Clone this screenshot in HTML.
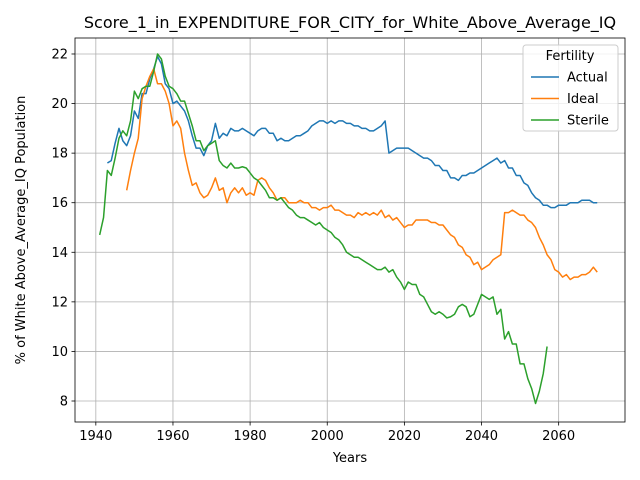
<!DOCTYPE html>
<html><head><meta charset="utf-8"><style>body{margin:0;background:#fff}svg{display:block;font-family:"DejaVu Sans","Liberation Sans",sans-serif}</style></head>
<body>
<svg id="chart" width="640" height="480"></svg>
<script>
const actualStart = 1943;
const actualValues = [17.6,17.7,18.4,19.0,18.5,18.3,18.7,19.7,19.4,20.4,20.4,21.0,21.4,21.9,21.6,20.8,20.6,20.0,20.1,19.9,19.7,19.3,18.7,18.2,18.2,17.9,18.3,18.5,19.2,18.6,18.8,18.7,19.0,18.9,18.9,19.0,18.9,18.8,18.7,18.9,19.0,19.0,18.8,18.8,18.5,18.6,18.5,18.5,18.6,18.7,18.7,18.8,18.9,19.1,19.2,19.3,19.3,19.2,19.3,19.2,19.3,19.3,19.2,19.2,19.1,19.1,19.0,19.0,18.9,18.9,19.0,19.1,19.3,18.0,18.1,18.2,18.2,18.2,18.2,18.1,18.0,17.9,17.8,17.8,17.7,17.5,17.5,17.3,17.3,17.0,17.0,16.9,17.1,17.1,17.2,17.2,17.3,17.4,17.5,17.6,17.7,17.8,17.6,17.7,17.4,17.4,17.1,17.1,16.8,16.7,16.4,16.2,16.1,15.9,15.9,15.8,15.8,15.9,15.9,15.9,16.0,16.0,16.0,16.1,16.1,16.1,16.0,16.0];
const idealStart = 1948;
const idealValues = [16.5,17.3,18.0,18.6,20.2,20.7,21.1,21.4,20.8,20.8,20.5,20.0,19.1,19.3,19.0,18.0,17.3,16.7,16.8,16.4,16.2,16.3,16.6,17.0,16.5,16.6,16.0,16.4,16.6,16.4,16.6,16.3,16.4,16.3,16.9,17.0,16.9,16.6,16.4,16.1,16.2,16.2,16.0,16.0,16.0,16.1,16.0,16.0,15.8,15.8,15.7,15.8,15.8,15.9,15.7,15.7,15.6,15.5,15.5,15.4,15.6,15.5,15.6,15.5,15.6,15.5,15.7,15.4,15.5,15.3,15.4,15.2,15.0,15.1,15.1,15.3,15.3,15.3,15.3,15.2,15.2,15.1,15.1,14.9,14.7,14.6,14.3,14.2,13.9,13.8,13.5,13.6,13.3,13.4,13.5,13.7,13.8,13.9,15.6,15.6,15.7,15.6,15.5,15.5,15.3,15.2,15.0,14.6,14.3,13.9,13.7,13.3,13.2,13.0,13.1,12.9,13.0,13.0,13.1,13.1,13.2,13.4,13.2];
const sterileStart = 1941;
const sterileValues = [14.7,15.4,17.3,17.1,17.8,18.6,18.9,18.7,19.3,20.5,20.2,20.6,20.7,20.7,21.3,22.0,21.8,21.1,20.7,20.6,20.4,20.1,20.1,19.6,19.1,18.5,18.5,18.1,18.3,18.4,18.5,17.7,17.5,17.4,17.6,17.4,17.4,17.45,17.4,17.2,17.0,16.9,16.7,16.5,16.2,16.2,16.1,16.2,16.0,15.8,15.7,15.5,15.4,15.4,15.3,15.2,15.1,15.2,15.0,14.9,14.8,14.6,14.5,14.3,14.0,13.9,13.8,13.8,13.7,13.6,13.5,13.4,13.3,13.3,13.4,13.2,13.3,13.0,12.8,12.5,12.8,12.7,12.7,12.3,12.2,11.9,11.6,11.5,11.6,11.5,11.35,11.4,11.5,11.8,11.9,11.8,11.4,11.5,11.9,12.3,12.2,12.1,12.2,11.5,11.7,10.5,10.8,10.3,10.3,9.5,9.5,8.9,8.5,7.9,8.4,9.1,10.2];
const xTicks = [1940,1960,1980,2000,2020,2040,2060];
const yTicks = [8,10,12,14,16,18,20,22];
const seriesNames = ["Actual","Ideal","Sterile"];

const L=75,R=625,T=38,B=422,X0=1934.6,X1=2077.2,Y0=7.153,Y1=22.645;
const sx=v=>L+(v-X0)/(X1-X0)*(R-L);
const sy=v=>B-(v-Y0)/(Y1-Y0)*(B-T);
const NS="http://www.w3.org/2000/svg";
const svg=document.getElementById('chart');
function mk(tag,attrs,parent){const e=document.createElementNS(NS,tag);for(const k in attrs)e.setAttribute(k,attrs[k]);(parent||svg).appendChild(e);return e;}

const grid=mk('g',{});


xTicks.forEach(t=>{
  const x=sx(t);
  const gl=mk('line',{x1:x,x2:x,y1:T,y2:B,stroke:'#b0b0b0','stroke-width':0.8},grid);
  
  
  mk('line',{x1:x,x2:x,y1:B,y2:B+3.5,stroke:'#000','stroke-width':0.8});
  const tx=mk('text',{x:x,y:B+18,'font-size':13,'text-anchor':'middle',fill:'#000'});
  tx.textContent=t;
  
  
});
yTicks.forEach(t=>{
  const y=sy(t);
  const gl=mk('line',{x1:L,x2:R,y1:y,y2:y,stroke:'#b0b0b0','stroke-width':0.8},grid);
  
  
  mk('line',{x1:L-3.5,x2:L,y1:y,y2:y,stroke:'#000','stroke-width':0.8});
  const tx=mk('text',{x:L-7,y:y+4.5,'font-size':13,'text-anchor':'end',fill:'#000'});
  tx.textContent=t;
  
  
});

const colors=['#1f77b4','#ff7f0e','#2ca02c'];
const datasets=[[actualStart,actualValues],[idealStart,idealValues],[sterileStart,sterileValues]];
datasets.forEach((d,i)=>{
  const pts=d[1].map((v,j)=>sx(d[0]+j).toFixed(2)+','+sy(v).toFixed(2)).join(' ');
  const pl=mk('polyline',{points:pts,fill:'none',stroke:colors[i],'stroke-width':1.5,'stroke-linejoin':'round'});
  
  
});

const frame=mk('rect',{x:L,y:T,width:R-L,height:B-T,fill:'none',stroke:'#000','stroke-width':0.8});



const title=mk('text',{x:(L+R)/2,y:28,'font-size':16,'text-anchor':'middle',fill:'#000'});
title.textContent='Score_1_in_EXPENDITURE_FOR_CITY_for_White_Above_Average_IQ';


const xl=mk('text',{x:(L+R)/2,y:462,'font-size':13,'text-anchor':'middle',fill:'#000'});
xl.textContent='Years';


const yl=mk('text',{x:0,y:0,'font-size':13,'text-anchor':'middle',fill:'#000',transform:'translate(25,'+((T+B)/2)+') rotate(-90)'});
yl.textContent='% of White Above_Average_IQ Population';



const lg=mk('g',{});


mk('rect',{x:523,y:45,width:95,height:86,rx:3,fill:'#fff','fill-opacity':0.8,stroke:'#ccc','stroke-width':1},lg);
const lt=mk('text',{x:570,y:60,'font-size':13,'text-anchor':'middle',fill:'#000'},lg);
lt.textContent='Fertility';


seriesNames.forEach((n,i)=>{
  const y=77+i*21.5;
  const ln=mk('line',{x1:531,x2:559,y1:y,y2:y,stroke:colors[i],'stroke-width':1.5},lg);
  
  
  const t=mk('text',{x:567,y:y+4.5,'font-size':13,fill:'#000'},lg);
  t.textContent=n;
  
  
});
</script>
</body></html>
